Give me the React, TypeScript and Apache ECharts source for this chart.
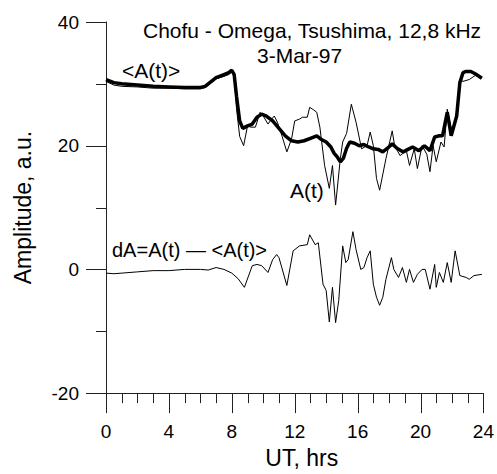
import React, { useEffect, useRef } from "react";
import * as echarts from "echarts";

// Thin line: A(t)
const aTimes = [0, 0.5, 1, 2, 3, 4, 5, 6, 6.3, 6.7, 7.0, 7.5, 7.8, 8.0, 8.15, 8.3, 8.5, 8.75, 9.0, 9.2, 9.5, 9.8, 10.0, 10.3, 10.5, 10.7, 10.9, 11.2, 11.5, 11.8, 12.0, 12.3, 12.5, 12.8, 12.95, 13.2, 13.4, 13.6, 13.9, 14.2, 14.4, 14.6, 14.9, 15.05, 15.3, 15.6, 15.9, 16.25, 16.6, 16.8, 17.0, 17.2, 17.4, 17.8, 18.2, 18.35, 18.7, 19.1, 19.3, 19.6, 19.8, 20.1, 20.4, 20.6, 20.8, 21.0, 21.3, 21.5, 21.7, 22.0, 22.3, 22.5, 22.7, 23.1, 23.5, 23.9];
const aValues = [30.4, 29.8, 29.6, 29.5, 29.3, 29.3, 29.2, 29.2, 29.4, 30.2, 30.8, 31.2, 31.5, 31.9, 31.2, 26.0, 21.5, 20.0, 23.2, 23.0, 23.0, 25.4, 24.8, 23.5, 24.2, 24.8, 23.8, 21.5, 19.0, 21.1, 24.0, 24.3, 24.6, 24.6, 26.2, 25.8, 25.4, 23.0, 16.8, 13.1, 16.8, 10.4, 17.9, 20.6, 22.0, 26.7, 23.8, 19.5, 20.0, 22.2, 20.0, 14.7, 12.8, 17.9, 22.4, 20.0, 18.4, 19.2, 16.8, 19.5, 16.3, 20.0, 18.6, 15.8, 20.0, 17.4, 20.6, 19.8, 25.9, 22.2, 25.0, 30.7, 30.4, 30.7, 31.4, 31.0];

// Thick line: <A(t)>
const avgTimes = [0, 0.5, 1, 2, 3, 4, 5, 6, 6.3, 6.7, 7.0, 7.5, 7.8, 8.0, 8.15, 8.3, 8.5, 8.7, 9.0, 9.3, 9.6, 9.9, 10.2, 10.6, 11.0, 11.4, 11.8, 12.2, 12.6, 13.0, 13.4, 13.7, 14.0, 14.3, 14.5, 14.7, 14.9, 15.1, 15.3, 15.5, 15.8, 16.1, 16.4, 16.7, 17.0, 17.3, 17.6, 17.9, 18.2, 18.5, 18.9, 19.2, 19.5, 19.9, 20.25, 20.6, 20.9, 21.2, 21.4, 21.7, 21.95, 22.3, 22.5, 22.7, 22.9, 23.2, 23.5, 23.9];
const avgValues = [30.7, 30.2, 30.0, 29.8, 29.6, 29.5, 29.4, 29.4, 29.6, 30.4, 31.0, 31.5, 31.8, 32.2, 31.5, 28.0, 24.0, 22.8, 23.2, 23.5, 24.6, 25.1, 24.8, 24.0, 22.8, 21.6, 20.8, 20.6, 20.8, 21.2, 21.6, 21.0, 20.6, 19.8, 18.8, 18.2, 17.4, 18.0, 19.6, 20.6, 20.4, 20.0, 20.2, 19.8, 19.5, 19.4, 19.0, 19.6, 20.3, 19.6, 19.0, 19.4, 19.8, 19.2, 20.0, 19.2, 21.4, 21.6, 21.6, 25.4, 21.6, 24.8, 30.2, 31.8, 32.0, 32.0, 31.6, 30.9];

// Lower line: dA = A(t) - <A(t)>
const dTimes = [0, 0.5, 1, 2, 3, 4, 5, 6, 6.5, 7.0, 7.5, 8.0, 8.4, 8.8, 9.3, 9.6, 9.9, 10.3, 10.6, 10.85, 11.0, 11.5, 11.9, 12.3, 12.8, 12.95, 13.3, 13.5, 13.8, 14.0, 14.2, 14.4, 14.6, 14.8, 15.05, 15.25, 15.4, 15.7, 15.9, 16.2, 16.4, 16.6, 16.8, 17.0, 17.2, 17.4, 17.6, 17.8, 18.15, 18.3, 18.6, 18.85, 19.1, 19.3, 19.55, 19.8, 20.1, 20.3, 20.6, 20.9, 21.0, 21.2, 21.45, 21.7, 21.95, 22.2, 22.5, 22.9, 23.1, 23.4, 23.9];
const dValues = [-0.6, -0.7, -0.6, -0.4, -0.2, -0.2, 0.0, 0.0, -0.1, 0.3, 0.0, -0.6, -1.5, -2.9, 0.6, 0.8, 0.6, -0.5, 1.6, 2.4, 1.9, -2.6, 3.0, 3.8, 4.0, 5.6, 4.0, 4.3, -2.4, -3.4, -8.5, -2.9, -8.6, -5.0, 3.8, 1.1, 1.6, 6.1, 3.2, 0.0, 0.3, 1.9, 3.0, -2.4, -4.5, -5.8, -4.5, -1.6, 1.9, 0.0, -1.3, 0.3, -2.1, 0.0, -2.1, -0.8, 0.0, 0.0, -3.2, 0.8, -2.9, -0.5, -2.1, 1.1, -2.1, 3.0, -1.0, -1.3, -1.6, -1.0, -0.8];

const xTicks = [0, 4, 8, 12, 16, 20, 24];
const xMinorTicks = [1, 2, 3, 5, 6, 7, 9, 10, 11, 13, 14, 15, 17, 18, 19, 21, 22, 23];
const yTicks = [-20, 0, 20, 40];
const yMinorTicks = [-10, 10, 30];

const titleLine1 = "Chofu - Omega, Tsushima, 12,8 kHz";
const titleLine2 = "3-Mar-97";

const zip = (t: number[], v: number[]) => t.map((x, i) => [x, v[i]]);

const FONT = "Liberation Sans";
const AXIS_COLOR = "#222";

function label(text: string, left: number, top: number, size: number) {
  return {
    type: "text",
    left,
    top,
    silent: true,
    style: { text, font: `${size}px "${FONT}", Arial, sans-serif`, fill: "#000" },
  };
}

export default function App() {
  const ref = useRef<HTMLDivElement>(null);
  useEffect(() => {
    if (!ref.current) return;
    const chart = echarts.init(ref.current, null, { renderer: "svg" });
    chart.setOption({
      animation: false,
      backgroundColor: "#fff",
      textStyle: { fontFamily: FONT },
      grid: { left: 106, right: 13, top: 22, bottom: 76 },
      xAxis: {
        type: "value",
        min: xTicks[0],
        max: xTicks[xTicks.length - 1],
        interval: 4,
        name: "UT, hrs",
        nameLocation: "middle",
        nameGap: 52,
        nameTextStyle: { fontSize: 23, color: "#000", fontFamily: FONT, padding: [0, 0, 0, 14] },
        axisLine: { show: true, onZero: false, lineStyle: { color: AXIS_COLOR, width: 1 } },
        axisTick: { show: false },
        axisLabel: { fontSize: 19, color: "#000", margin: 29, fontFamily: FONT },
        splitLine: { show: false },
      },
      yAxis: {
        type: "value",
        min: yTicks[0],
        max: yTicks[yTicks.length - 1],
        interval: 20,
        name: "Amplitude, a.u.",
        nameLocation: "middle",
        nameGap: 72,
        nameTextStyle: { fontSize: 23, color: "#000", fontFamily: FONT },
        axisLine: { show: true, onZero: false, lineStyle: { color: AXIS_COLOR, width: 1 } },
        axisTick: { show: false },
        axisLabel: { fontSize: 19, color: "#000", margin: 27, fontFamily: FONT },
        splitLine: { show: false },
      },
      series: [
        {
          type: "line",
          data: zip(aTimes, aValues),
          showSymbol: false,
          lineStyle: { color: "#000", width: 1 },
          z: 3,
        },
        {
          type: "line",
          data: zip(avgTimes, avgValues),
          showSymbol: false,
          lineStyle: { color: "#000", width: 3.5 },
          z: 2,
        },
        {
          type: "line",
          data: zip(dTimes, dValues),
          showSymbol: false,
          lineStyle: { color: "#000", width: 1 },
          z: 2,
        },
      ],
    });

    // Axis ticks drawn from the axes' own scales
    const y0 = chart.convertToPixel({ yAxisIndex: 0 }, yTicks[0]) as number;
    const x0 = chart.convertToPixel({ xAxisIndex: 0 }, xTicks[0]) as number;
    const tick = (x1: number, y1: number, x2: number, y2: number) => ({
      type: "line",
      silent: true,
      shape: { x1, y1, x2, y2 },
      style: { stroke: AXIS_COLOR, lineWidth: 1 },
    });
    const ticks: any[] = [];
    xTicks.forEach((v) => {
      const x = Math.round(chart.convertToPixel({ xAxisIndex: 0 }, v) as number) + 0.5;
      ticks.push(tick(x, y0, x, y0 + 20));
    });
    xMinorTicks.forEach((v) => {
      const x = Math.round(chart.convertToPixel({ xAxisIndex: 0 }, v) as number) + 0.5;
      ticks.push(tick(x, y0, x, y0 + 10));
    });
    yTicks.forEach((v) => {
      const y = Math.round(chart.convertToPixel({ yAxisIndex: 0 }, v) as number) + 0.5;
      ticks.push(tick(x0 - 20, y, x0, y));
    });
    yMinorTicks.forEach((v) => {
      const y = Math.round(chart.convertToPixel({ yAxisIndex: 0 }, v) as number) + 0.5;
      ticks.push(tick(x0 - 10, y, x0, y));
    });

    chart.setOption({
      graphic: [
        label(titleLine1, 143, 20, 21),
        label(titleLine2, 257, 45, 21),
        label("<A(t)>", 122, 60, 21),
        label("A(t)", 290, 180, 21),
        label("dA=A(t) \u2014 <A(t)>", 112, 240, 20),
        ...ticks,
      ],
    });
    return () => chart.dispose();
  }, []);
  return <div ref={ref} style={{ width: 497, height: 474, position: "absolute", left: 0, top: 0 }} />;
}
